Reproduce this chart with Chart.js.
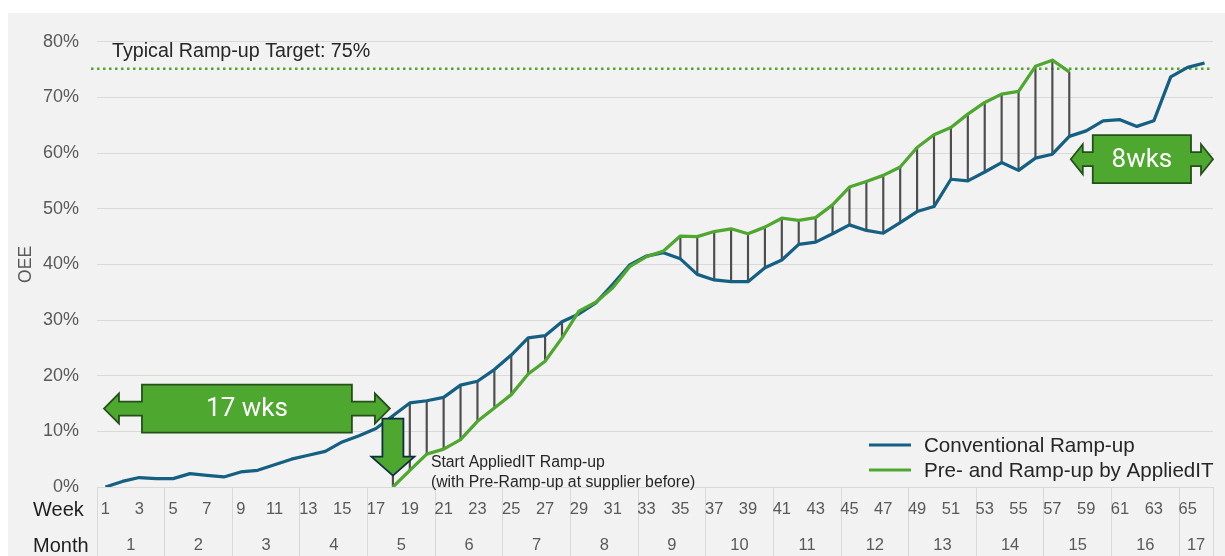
<!DOCTYPE html>
<html>
<head>
<meta charset="utf-8">
<title>OEE Ramp-up</title>
<script src="https://cdn.jsdelivr.net/npm/chart.js@4.4.1/dist/chart.umd.min.js"></script>
<style>
  html, body { margin: 0; padding: 0; background: #ffffff; }
  #wrap { position: absolute; left: 8px; top: 13px; width: 1217px; height: 543px; background: #f2f2f2; }
</style>
</head>
<body>
<div id="wrap"><canvas id="oeeChart" width="1217" height="543"></canvas></div>
<script>
// categories (weeks) and month row
const weeks = Array.from({ length: 66 }, (_, i) => String(i + 1));
const months = ['1', '2', '3', '4', '5', '6', '7', '8', '9', '10', '11', '12', '13', '14', '15', '16', '17'];
const weeksPerMonth = [4, 4, 4, 4, 4, 4, 4, 4, 4, 4, 4, 4, 4, 4, 4, 4, 2];

// OEE in %
const conventional = [
    0, 1.0, 1.7, 1.5, 1.5, 2.4, 2.1, 1.8, 2.7, 3.0,
    4.0, 5.0, 5.7, 6.4, 8.1, 9.2, 10.5, 12.8, 15.1, 15.5,
    16.1, 18.3, 19.0, 21.1, 23.7, 26.8, 27.2, 29.7, 31.1, 33.1,
    36.4, 39.9, 41.5, 42.1, 41.0, 38.2, 37.2, 36.9, 36.9, 39.4,
    40.8, 43.6, 44.0, 45.5, 47.1, 46.1, 45.6, 47.5, 49.5, 50.4,
    55.3, 55.0, 56.6, 58.3, 56.9, 59.1, 59.8, 63.0, 64.0, 65.8,
    66.0, 64.8, 65.8, 73.7, 75.4, 76.2
];
const appliedIT = [
    null, null, null, null, null, null, null, null, null, null,
    null, null, null, null, null, null, null, 0, 3.0, 5.9,
    6.8, 8.5, 11.8, 14.2, 16.6, 20.3, 22.6, 26.8, 31.6, 33.2,
    35.8, 39.6, 41.4, 42.4, 45.1, 45.0, 45.9, 46.4, 45.5, 46.7,
    48.3, 47.9, 48.4, 50.7, 53.9, 54.9, 56.0, 57.5, 61.0, 63.3,
    64.6, 67.0, 69.1, 70.6, 71.1, 75.6, 76.7, 74.6
];
const yTicks = [0, 10, 20, 30, 40, 50, 60, 70, 80];
const targetOEE = 75;
const targetLabel = 'Typical Ramp-up Target: 75%';

const FONT = '"Liberation Sans", Arial, sans-serif';
const BLUE = '#156082';
const GREEN = '#4ea72e';
const GRID = '#d9d9d9';
const TICK = '#595959';

// gap between both curves, drawn as thin floating bars
const gapBars = conventional.map((v, i) => (appliedIT[i] == null ? null : [v, appliedIT[i]]));

// month boundaries (in weeks) and month centres
const monthBounds = [0];
const monthCenters = [];
weeksPerMonth.forEach((w) => {
    const start = monthBounds[monthBounds.length - 1];
    monthCenters.push(start + w / 2);
    monthBounds.push(start + w);
});

function doubleArrow(ctx, L, R, cy, inset, head, text) {
    const bh = 24, sh = 7, hh = 15;
    ctx.beginPath();
    ctx.moveTo(L, cy);
    ctx.lineTo(L + head, cy - hh);
    ctx.lineTo(L + head, cy - sh);
    ctx.lineTo(L + inset, cy - sh);
    ctx.lineTo(L + inset, cy - bh);
    ctx.lineTo(R - inset, cy - bh);
    ctx.lineTo(R - inset, cy - sh);
    ctx.lineTo(R - head, cy - sh);
    ctx.lineTo(R - head, cy - hh);
    ctx.lineTo(R, cy);
    ctx.lineTo(R - head, cy + hh);
    ctx.lineTo(R - head, cy + sh);
    ctx.lineTo(R - inset, cy + sh);
    ctx.lineTo(R - inset, cy + bh);
    ctx.lineTo(L + inset, cy + bh);
    ctx.lineTo(L + inset, cy + sh);
    ctx.lineTo(L + head, cy + sh);
    ctx.lineTo(L + head, cy + hh);
    ctx.closePath();
    ctx.fillStyle = GREEN;
    ctx.fill();
    ctx.strokeStyle = '#24501a';
    ctx.lineWidth = 1.8;
    ctx.stroke();
    ctx.fillStyle = '#ffffff';
    ctx.font = '26px Roboto, ' + FONT;
    ctx.textAlign = 'center';
    ctx.textBaseline = 'middle';
    ctx.fillText(text, (L + R) / 2, cy + 1);
}

const annotations = {
    id: 'annotations',
    beforeDatasetsDraw(chart) {
        const { ctx, chartArea, scales: { y } } = chart;
        const ty = y.getPixelForValue(targetOEE) - 1;
        ctx.save();
        ctx.strokeStyle = GREEN;
        ctx.lineWidth = 2.5;
        ctx.setLineDash([2.5, 3.5]);
        ctx.beginPath();
        ctx.moveTo(chartArea.left - 6, ty);
        ctx.lineTo(chartArea.right, ty);
        ctx.stroke();
        ctx.setLineDash([]);
        ctx.fillStyle = '#262626';
        ctx.font = '19.7px ' + FONT;
        ctx.textAlign = 'left';
        ctx.textBaseline = 'middle';
        ctx.fillText(targetLabel, chartArea.left + 15, ty - 17);
        ctx.restore();
    },
    afterDatasetsDraw(chart) {
        const { ctx, chartArea, scales: { x, y } } = chart;
        const startIdx = appliedIT.findIndex((v) => v !== null);
        const endIdx = appliedIT.length - 1;
        ctx.save();

        // 17 wks
        doubleArrow(ctx, x.getPixelForValue(0) - 1.5, x.getPixelForValue(startIdx) - 3,
            y.getPixelForValue(14.1), 38, 15, '17 wks');
        // 8wks
        doubleArrow(ctx, x.getPixelForValue(endIdx) + 1.5, chartArea.right,
            y.getPixelForValue(58.9), 22, 12, '8wks');

        // down arrow at the start of the AppliedIT ramp-up
        const ax = x.getPixelForValue(startIdx);
        const top = y.getPixelForValue(12.3);
        ctx.beginPath();
        ctx.moveTo(ax - 10.5, top);
        ctx.lineTo(ax + 10.5, top);
        ctx.lineTo(ax + 10.5, top + 38);
        ctx.lineTo(ax + 21.5, top + 38);
        ctx.lineTo(ax, top + 57);
        ctx.lineTo(ax - 21.5, top + 38);
        ctx.lineTo(ax - 10.5, top + 38);
        ctx.closePath();
        ctx.fillStyle = GREEN;
        ctx.fill();
        ctx.strokeStyle = '#0e2f3f';
        ctx.lineWidth = 1.8;
        ctx.stroke();

        ctx.fillStyle = '#262626';
        ctx.font = '15.8px ' + FONT;
        ctx.textAlign = 'left';
        ctx.textBaseline = 'middle';
        const y0 = y.getPixelForValue(0);
        ctx.fillText('Start AppliedIT Ramp-up', ax + 38, y0 - 24);
        ctx.fillText('(with Pre-Ramp-up at supplier before)', ax + 38, y0 - 4);
        ctx.restore();
    },
    afterDraw(chart) {
        const { ctx, chartArea, scales: { x, x2 } } = chart;
        ctx.save();
        // legend in the lower right of the plot
        const lines = chart.data.datasets.filter((d) => d.type === 'line');
        lines.forEach((d, i) => {
            const ly = chartArea.bottom - 42 + i * 25;
            ctx.strokeStyle = d.borderColor;
            ctx.lineWidth = 3;
            ctx.beginPath();
            ctx.moveTo(chartArea.right - 344, ly);
            ctx.lineTo(chartArea.right - 302, ly);
            ctx.stroke();
            ctx.fillStyle = '#262626';
            ctx.font = '20.6px ' + FONT;
            ctx.textAlign = 'left';
            ctx.textBaseline = 'middle';
            ctx.fillText(d.label, chartArea.right - 289, ly + 1.5);
        });
        // row headers of the axis table
        ctx.fillStyle = '#1f1f1f';
        ctx.font = '20px ' + FONT;
        ctx.textAlign = 'left';
        ctx.textBaseline = 'middle';
        ctx.fillText('Week', 25, x.top + 23.5);
        ctx.fillText('Month', 25, x2.top + 24.5);
        ctx.restore();
    }
};

const ctx = document.getElementById('oeeChart').getContext('2d');
new Chart(ctx, {
    type: 'bar',
    data: {
        labels: weeks,
        datasets: [
            {
                type: 'line',
                label: 'Conventional Ramp-up',
                data: conventional,
                borderColor: BLUE,
                backgroundColor: BLUE,
                borderWidth: 3.25,
                borderJoinStyle: 'round',
                pointRadius: 0,
                order: 1,
            },
            {
                type: 'line',
                label: 'Pre- and Ramp-up by AppliedIT',
                data: appliedIT,
                borderColor: GREEN,
                backgroundColor: GREEN,
                borderWidth: 3.25,
                borderJoinStyle: 'round',
                pointRadius: 0,
                order: 0,
            },
            {
                type: 'bar',
                label: 'gap',
                data: gapBars,
                backgroundColor: '#4d4d4d',
                barThickness: 1.5,
                order: 5,
            },
        ],
    },
    plugins: [annotations],
    options: {
        responsive: false,
        animation: false,
        layout: { padding: { top: 23, right: 12, left: 0, bottom: 0 } },
        plugins: {
            legend: { display: false },
            tooltip: { enabled: false },
        },
        scales: {
            x: {
                type: 'category',
                offset: true,
                weight: 0,
                grid: {
                    offset: true,
                    drawOnChartArea: false,
                    tickLength: 69,
                    lineWidth: 1,
                    color: (c) => {
                        const idx = c.index === undefined ? weeks.length : c.index;
                        return monthBounds.includes(idx) ? GRID : 'rgba(0,0,0,0)';
                    },
                },
                border: { display: true, color: GRID },
                ticks: {
                    autoSkip: false,
                    maxRotation: 0,
                    minRotation: 0,
                    padding: -56,
                    color: TICK,
                    font: { family: FONT, size: 16.5 },
                    callback: (v, i) => (i % 2 === 0 ? weeks[i] : ''),
                },
                afterFit: (s) => { s.height = 35; },
            },
            x2: {
                type: 'linear',
                position: 'bottom',
                weight: 1,
                offset: false,
                min: 0,
                max: weeks.length,
                grid: { display: false, drawTicks: false, offset: false },
                border: { display: false },
                afterBuildTicks: (s) => { s.ticks = monthCenters.map((v) => ({ value: v })); },
                ticks: {
                    autoSkip: false,
                    maxRotation: 0,
                    padding: 14,
                    color: TICK,
                    font: { family: FONT, size: 16.5 },
                    callback: (v, i) => months[i],
                },
                afterFit: (s) => { s.height = 34; },
            },
            y: {
                min: yTicks[0],
                max: yTicks[yTicks.length - 1],
                afterBuildTicks: (s) => { s.ticks = yTicks.map((v) => ({ value: v })); },
                grid: { color: GRID, lineWidth: 1, drawTicks: false },
                border: { display: false },
                ticks: {
                    padding: 18,
                    color: TICK,
                    font: { family: FONT, size: 18 },
                    callback: (v) => v + '%',
                },
                title: {
                    display: true,
                    text: 'OEE',
                    color: TICK,
                    font: { family: FONT, size: 17.5 },
                    padding: { top: 8, bottom: 0 },
                },
                afterFit: (s) => { s.width = 89; },
            },
        },
    },
});
</script>
</body>
</html>
